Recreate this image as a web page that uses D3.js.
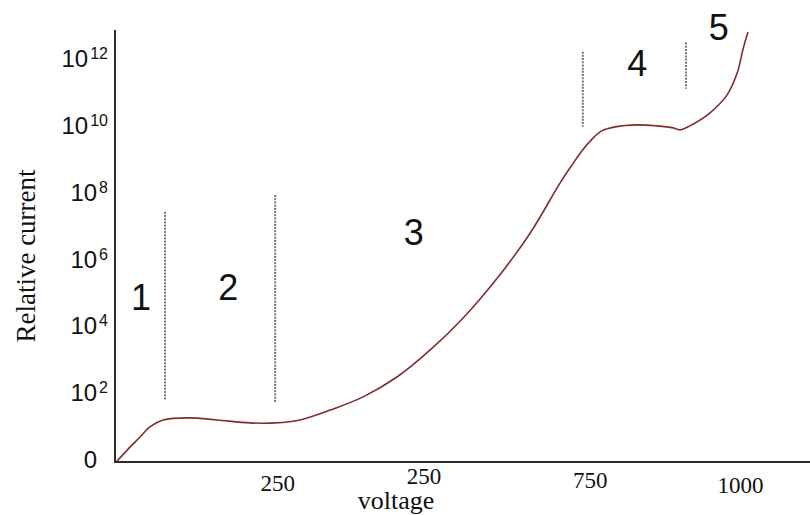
<!DOCTYPE html>
<html>
<head>
<meta charset="utf-8">
<script src="https://cdn.jsdelivr.net/npm/d3@7"></script>
<style>
  body { margin: 0; background: #fff; }
  svg { display: block; }
</style>
</head>
<body>
<svg id="chart" width="810" height="515"></svg>
<script>
// Current–voltage characteristic of a gas discharge tube
const voltage = [3, 20, 40, 55, 76, 118, 161, 213, 253, 292, 340, 392, 446, 498, 550, 604, 656, 703, 722, 739, 754, 769, 790, 825, 856, 882, 893, 908, 940, 967, 983, 992, 1000];
const current = [0.85, 1.9, 4.6, 9.1, 14.7, 16.9, 14.7, 12, 12, 14.7, 29, 72, 288, 1830, 1.66e4, 2.6e5, 5.8e6, 1.8e8, 6.3e8, 1.8e9, 3.8e9, 6.6e9, 8.7e9, 1.0e10, 9.3e9, 8.1e9, 7.1e9, 9.3e9, 2.3e10, 7.9e10, 3.6e11, 1.8e12, 6.0e12];

const yTickValues = [1, 1e2, 1e4, 1e6, 1e8, 1e10, 1e12];
const xTickValues = [250, 500, 750, 1000];
const xTickLabels = ["250", "250", "750", "1000"];

// Numbered regions of the discharge and the dashed boundaries between them
const regionNames = ["1", "2", "3", "4", "5"];
const regionVoltage = [41, 179, 472, 825, 954];
const regionCurrent = [7.1e4, 1.4e5, 6.3e6, 7.2e11, 8.3e12];
const boundaryVoltage = [79, 253, 739, 902];
const boundaryLow = [59, 51, 8.7e9, 1.2e11];
const boundaryHigh = [2.5e7, 7.9e7, 1.55e12, 2.9e12];

const W = 810, H = 515;
const svg = d3.select("#chart");

const x = d3.scaleLinear().domain([0, 1000]).range([115, 748]);
const y = d3.scaleLog().domain([0.81, 6.9e12]).range([462, 30]);

const axisColor = "#2b2b2b";
const curveColor = "#7d2f2f";

// axis lines
svg.append("line")
  .attr("x1", x(0)).attr("x2", x(0))
  .attr("y1", y.range()[1]).attr("y2", y.range()[0])
  .attr("stroke", axisColor).attr("stroke-width", 2);
svg.append("line")
  .attr("x1", x(0) - 1).attr("x2", W)
  .attr("y1", y.range()[0]).attr("y2", y.range()[0])
  .attr("stroke", axisColor).attr("stroke-width", 2);

// y tick labels: powers of ten with superscript exponents
const yAxis = svg.append("g")
  .attr("transform", `translate(${x(0) - 7},0)`)
  .call(d3.axisLeft(y).tickValues(yTickValues).tickSize(0).tickFormat(() => ""));
yAxis.select(".domain").remove();
yAxis.selectAll(".tick text").each(function(d) {
  const t = d3.select(this)
    .attr("x", 0).attr("dy", null).attr("y", 8.6)
    .attr("text-anchor", "end")
    .attr("fill", "#111")
    .style("font-family", "'Liberation Sans', Arial, sans-serif")
    .style("font-size", "24px");
  const e = Math.round(Math.log10(d));
  if (e === 0) {
    t.attr("x", -11).text("0");
  } else {
    t.append("tspan").text("10");
    t.append("tspan").attr("dx", 2).attr("dy", -8)
      .style("font-size", "16px").text(String(e));
  }
});

// x tick labels
const xNudge = [[4, 3], [-8, -4], [0, 0], [-8, 5]];
const xAxis = svg.append("g")
  .attr("transform", `translate(0,${y.range()[0]})`)
  .call(d3.axisBottom(x).tickValues(xTickValues).tickSize(0)
    .tickFormat((d, i) => xTickLabels[i]));
xAxis.select(".domain").remove();
xAxis.selectAll(".tick text")
  .attr("fill", "#111")
  .attr("dy", null)
  .attr("y", (d, i) => 26 + xNudge[i][1])
  .attr("x", (d, i) => xNudge[i][0])
  .style("font-family", "'Liberation Serif', 'Times New Roman', serif")
  .style("font-size", "23px");

// axis titles
svg.append("text")
  .attr("x", 396).attr("y", 509)
  .attr("text-anchor", "middle")
  .attr("fill", "#111")
  .style("font-family", "'Liberation Serif', 'Times New Roman', serif")
  .style("font-size", "26px")
  .text("voltage");

svg.append("text")
  .attr("transform", `translate(35,256) rotate(-90)`)
  .attr("text-anchor", "middle")
  .attr("fill", "#111")
  .style("font-family", "'Liberation Serif', 'Times New Roman', serif")
  .style("font-size", "27px")
  .text("Relative current");

// dashed region boundaries
svg.append("g").selectAll("line")
  .data(boundaryVoltage)
  .join("line")
  .attr("x1", d => x(d)).attr("x2", d => x(d))
  .attr("y1", (d, i) => y(boundaryHigh[i]))
  .attr("y2", (d, i) => y(boundaryLow[i]))
  .attr("stroke", "#777")
  .attr("stroke-width", 2)
  .attr("stroke-dasharray", "2,1.2");

// region numbers
svg.append("g").selectAll("text")
  .data(regionNames)
  .join("text")
  .attr("x", (d, i) => x(regionVoltage[i]))
  .attr("y", (d, i) => y(regionCurrent[i]))
  .attr("dy", "0.36em")
  .attr("text-anchor", "middle")
  .attr("fill", "#111")
  .style("font-family", "'Liberation Sans', Arial, sans-serif")
  .style("font-size", "36px")
  .text(d => d);

// the I–V curve
const pts = voltage.map((v, i) => [v, current[i]]);
svg.append("path")
  .datum(pts)
  .attr("fill", "none")
  .attr("stroke", curveColor)
  .attr("stroke-width", 1.6)
  .attr("d", d3.line()
    .x(d => x(d[0]))
    .y(d => y(d[1]))
    .curve(d3.curveCatmullRom.alpha(0.5)));
</script>
</body>
</html>
